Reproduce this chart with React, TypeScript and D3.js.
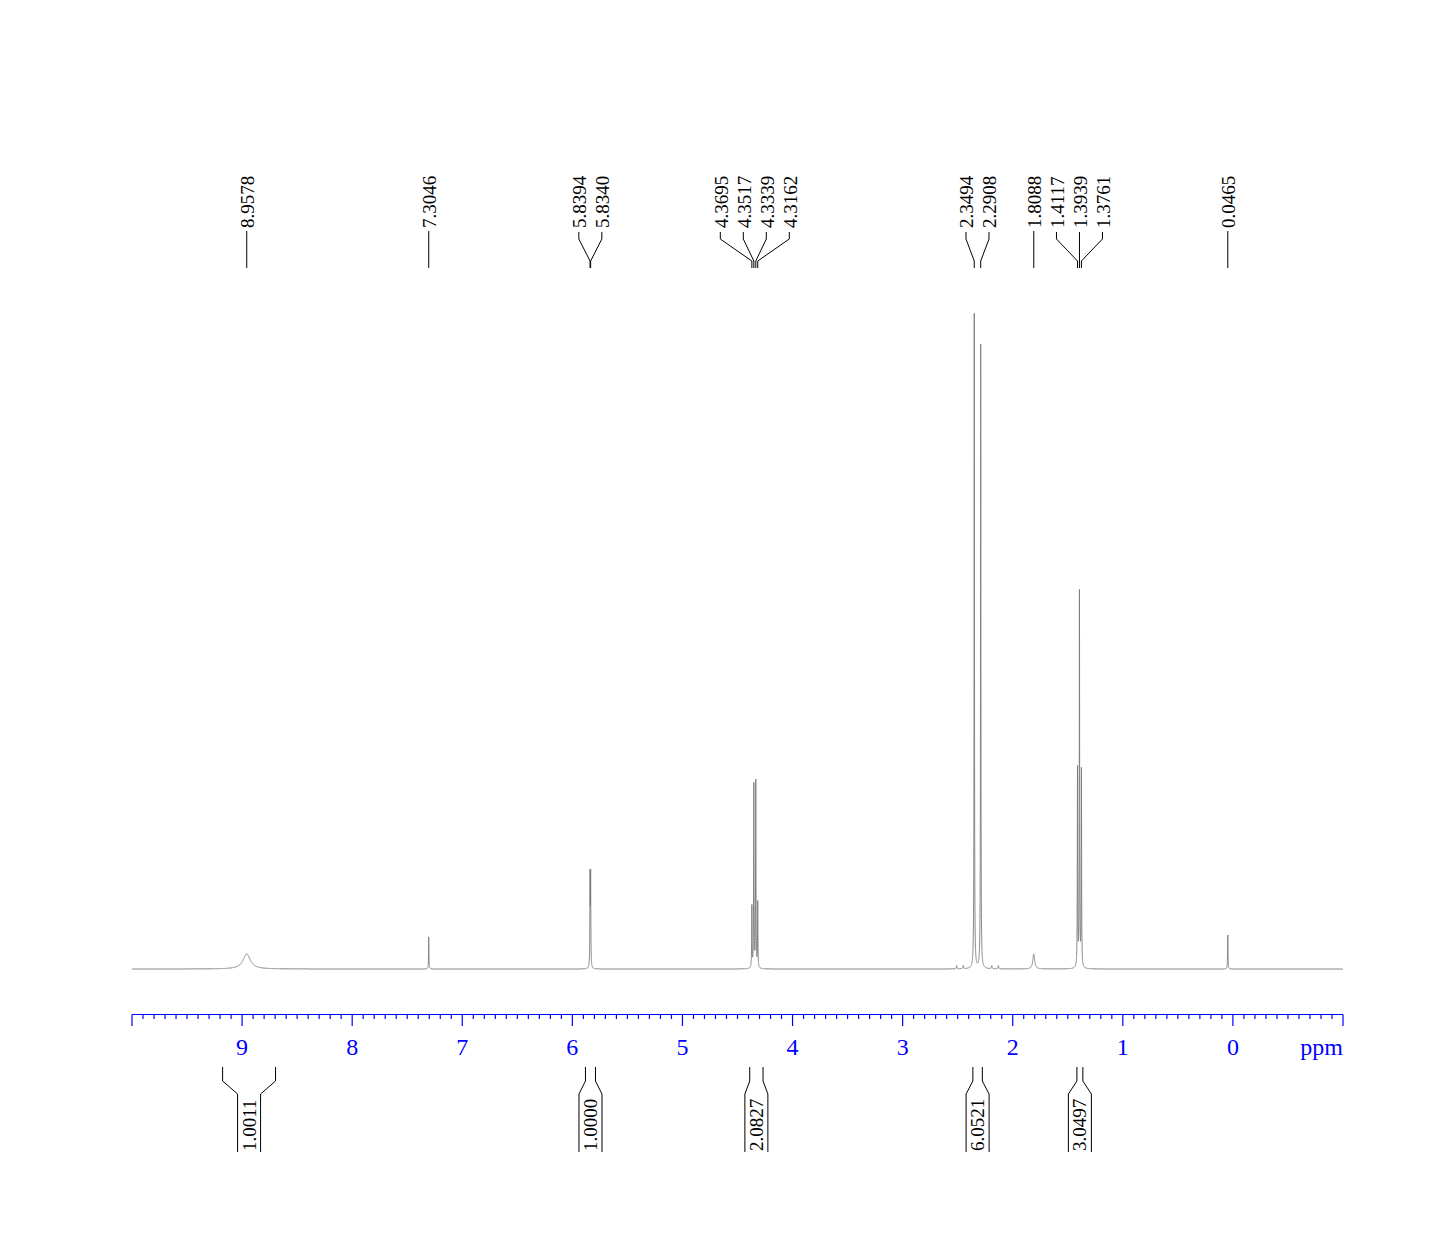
import React from "react";
import * as d3 from "d3";

// ---- data ----
const peakPpm = [8.9578, 7.3046, 5.8394, 5.834, 4.3695, 4.3517, 4.3339, 4.3162, 2.51, 2.45, 2.3494, 2.2908, 2.19, 2.13, 1.8088, 1.4117, 1.3939, 1.3761, 0.0465];
const peakHeight = [2.3, 4.9, 13.6, 13.6, 9.4, 28.0, 28.5, 10.0, 0.5, 0.5, 100, 95.3, 0.5, 0.5, 2.3, 30.3, 57.2, 30.0, 5.2];
const peakWidth = [0.08, 0.004, 0.004, 0.004, 0.004, 0.004, 0.004, 0.004, 0.006, 0.006, 0.004, 0.004, 0.006, 0.006, 0.02, 0.004, 0.004, 0.004, 0.004];

const labelGroups = [
  ["8.9578"],
  ["7.3046"],
  ["5.8394", "5.8340"],
  ["4.3695", "4.3517", "4.3339", "4.3162"],
  ["2.3494", "2.2908"],
  ["1.8088"],
  ["1.4117", "1.3939", "1.3761"],
  ["0.0465"],
];

const integralFrom = [9.177, 5.881, 4.389, 2.362, 1.417];
const integralTo = [8.696, 5.79, 4.268, 2.276, 1.363];
const integralValues = ["1.0011", "1.0000", "2.0827", "6.0521", "3.0497"];

const axisLabels = [9, 8, 7, 6, 5, 4, 3, 2, 1, 0];

// ---- layout ----
const W = 1448;
const H = 1241;
const xScale = d3.scaleLinear().domain([10, -1]).range([132, 1343]);
const yScale = d3.scaleLinear().domain([0, 100]).range([969, 314]);
const FONT = "'Liberation Serif', 'Times New Roman', serif";

function spectrumValue(p: number) {
  let s = 0;
  for (let i = 0; i < peakPpm.length; i++) {
    const d = (p - peakPpm[i]) / (peakWidth[i] / 2);
    s += peakHeight[i] / (1 + d * d);
  }
  return s;
}

function buildSpectrum() {
  const pts: number[] = [];
  const step = 0.0004;
  for (let p = 10; p >= -1; p -= step) pts.push(p);
  peakPpm.forEach((c) => pts.push(c));
  pts.sort((a, b) => b - a);
  const line = d3
    .line<number>()
    .x((p) => xScale(p))
    .y((p) => yScale(spectrumValue(p)));
  return line(pts) || "";
}

export default function App() {
  const specPath = React.useMemo(buildSpectrum, []);

  // minor ticks every 0.1 ppm
  const minorTicks = d3.range(0, 111).map((i) => 10 - i * 0.1);

  const labelElems: React.ReactNode[] = [];
  labelGroups.forEach((g, gi) => {
    const xs = g.map((s) => xScale(parseFloat(s)));
    const mean = d3.mean(xs) as number;
    const spacing = 23;
    g.forEach((s, i) => {
      const px = xs[i];
      const lx = g.length === 1 ? px : mean + (i - (g.length - 1) / 2) * spacing;
      const d =
        g.length === 1
          ? `M${px},231 L${px},268`
          : `M${lx},232 L${lx},239 L${px},261 L${px},268`;
      labelElems.push(
        <g key={`l${gi}-${i}`}>
          <path d={d} fill="none" stroke="#000" strokeWidth={1} />
          <text
            transform={`translate(${lx + 7.5},228) rotate(-90)`}
            fontFamily={FONT}
            fontSize={19}
            fill="#000"
          >
            {s}
          </text>
        </g>
      );
    });
  });

  const integralElems = integralValues.map((v, i) => {
    const x1 = xScale(integralFrom[i]);
    const x2 = xScale(integralTo[i]);
    const cx = (x1 + x2) / 2;
    const b1 = cx - 11.5;
    const b2 = cx + 11.5;
    const dl = `M${x1},1067 L${x1},1081 L${b1},1094 L${b1},1152`;
    const dr = `M${x2},1067 L${x2},1081 L${b2},1094 L${b2},1152`;
    return (
      <g key={`int${i}`}>
        <path d={dl} fill="none" stroke="#000" strokeWidth={1} />
        <path d={dr} fill="none" stroke="#000" strokeWidth={1} />
        <text
          transform={`translate(${cx + 6.5},1151) rotate(-90)`}
          fontFamily={FONT}
          fontSize={19}
          fill="#000"
        >
          {v}
        </text>
      </g>
    );
  });

  return (
    <svg
      width={W}
      height={H}
      viewBox={`0 0 ${W} ${H}`}
      style={{ position: "absolute", left: 0, top: 0, display: "block", background: "#fff" }}
    >
      <rect x={0} y={0} width={W} height={H} fill="#fff" />
      {/* spectrum */}
      <path d={specPath} fill="none" stroke="#7a7a7a" strokeWidth={0.9} />
      {/* peak labels */}
      {labelElems}
      {/* axis */}
      <g stroke="#0000ff" strokeWidth={1.2}>
        <line x1={xScale(10)} x2={xScale(-1)} y1={1014.5} y2={1014.5} />
        {minorTicks.map((t, i) => {
          const major = i % 10 === 0;
          const x = xScale(t);
          return <line key={`t${i}`} x1={x} x2={x} y1={1014.5} y2={major ? 1026 : 1019} />;
        })}
      </g>
      {axisLabels.map((v) => (
        <text
          key={`a${v}`}
          x={xScale(v)}
          y={1055}
          textAnchor="middle"
          fontFamily={FONT}
          fontSize={24}
          fill="#0000ff"
        >
          {v}
        </text>
      ))}
      <text x={xScale(-1)} y={1055} textAnchor="end" fontFamily={FONT} fontSize={24} fill="#0000ff">
        ppm
      </text>
      {/* integrals */}
      {integralElems}
    </svg>
  );
}
